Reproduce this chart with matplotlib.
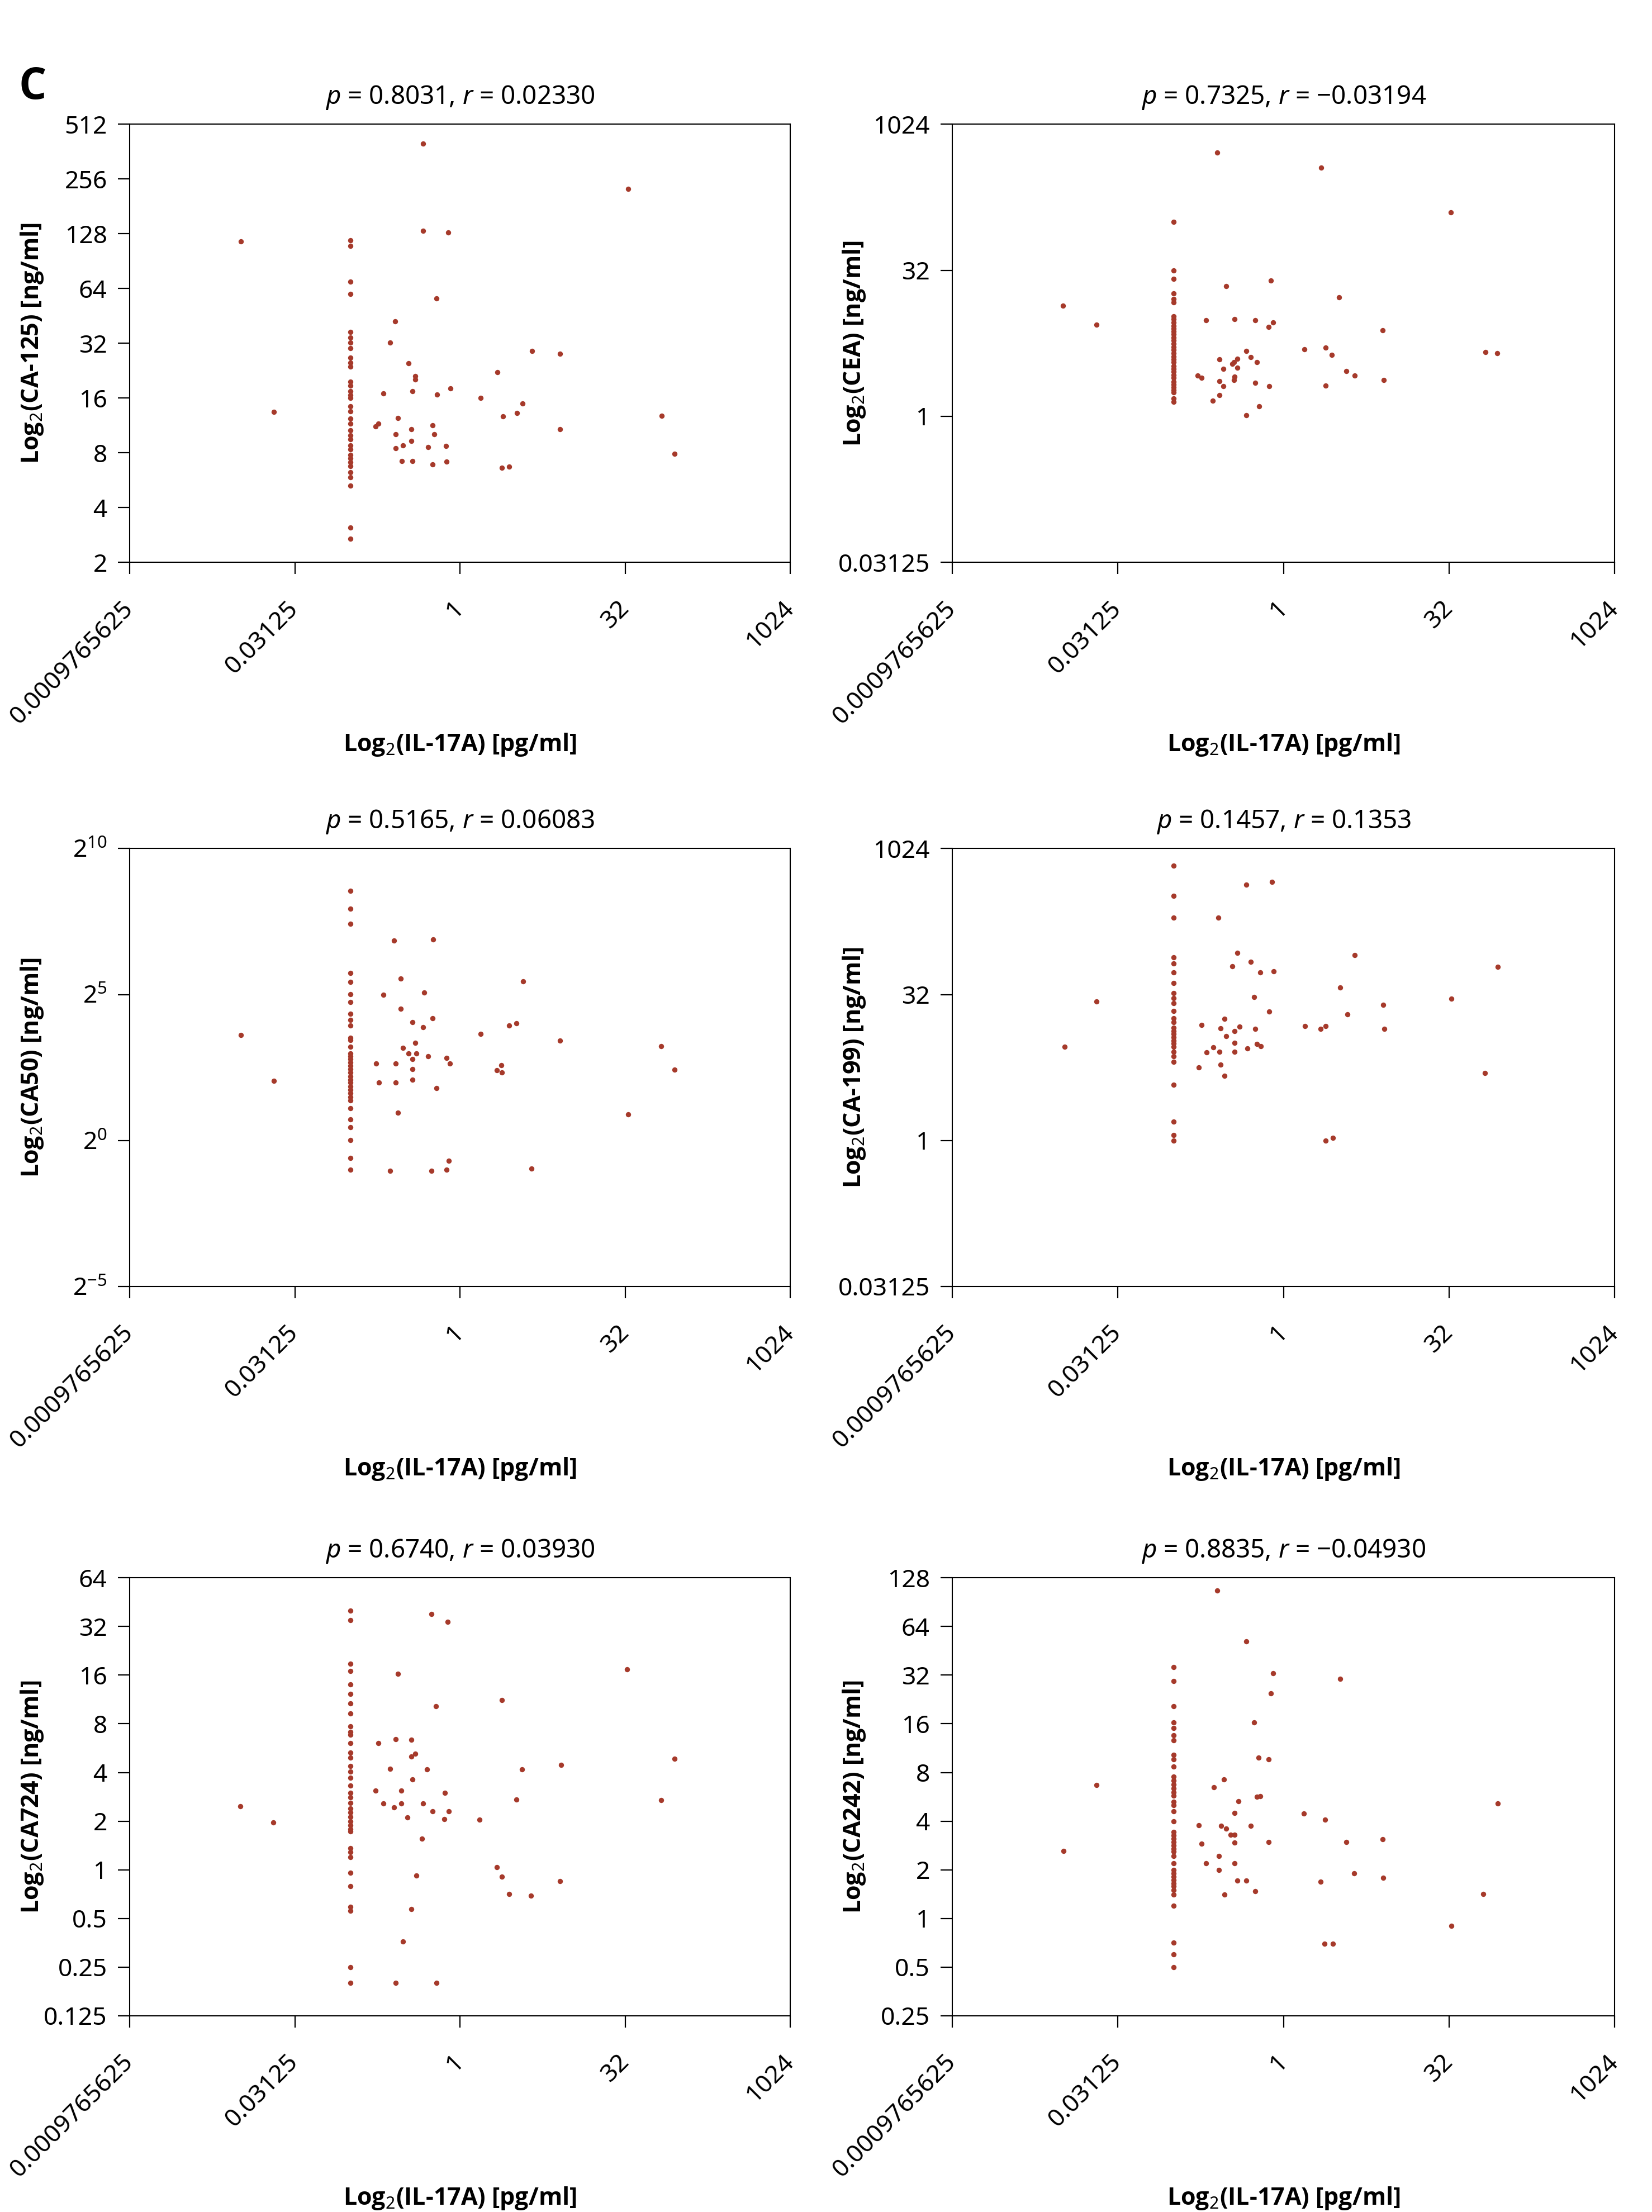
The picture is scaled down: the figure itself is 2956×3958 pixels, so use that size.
import matplotlib
matplotlib.use("Agg")
import matplotlib.pyplot as plt

plt.rcParams['font.family'] = ['Noto Sans', 'DejaVu Sans']
plt.rcParams['mathtext.fontset'] = 'custom'
plt.rcParams['mathtext.rm'] = 'Noto Sans'
plt.rcParams['mathtext.it'] = 'Noto Sans:italic'
plt.rcParams['mathtext.bf'] = 'Open Sans:bold'

BOLD_FAMILY = ['Open Sans', 'DejaVu Sans']
DOT = '#a63a2b'

# IL-17A below detection limit -> plotted at 0.1 pg/ml
IL17_LOD = 0.1

x_ticks = [2 ** -10, 2 ** -5, 1, 2 ** 5, 2 ** 10]
x_tick_labels = ['0.0009765625', '0.03125', '1', '32', '1024']

# ---- CA-125 ----
ca125_col = [118, 109.5, 69.6, 59.7, 37.0, 34.3, 32.2, 30.0, 26.7, 25.0, 23.8, 19.7, 18.7, 17.5,
             16.6, 16.0, 14.4, 13.5, 12.3, 11.6, 10.6, 9.97, 9.5, 8.76, 8.36, 7.78, 7.47, 7.09,
             6.77, 6.24, 5.87, 5.27, 3.11, 2.70]
ca125_il17 = [0.0101, 0.020, 0.17, 0.18, 0.20, 0.23, 0.257, 0.26, 0.27, 0.26, 0.295, 0.30, 0.34,
              0.36, 0.36, 0.37, 0.37, 0.39, 0.39, 0.46, 0.46, 0.51, 0.56, 0.58, 0.56, 0.61, 0.62,
              0.74, 0.75, 0.78, 0.82, 1.53, 2.18, 2.41, 2.47, 2.79, 3.29, 3.71, 4.53, 8.1, 8.1,
              33.8, 69, 90]
ca125_val = [116, 13.4, 11.2, 11.6, 17.0, 32.2, 42.2, 10.1, 12.4, 8.5, 7.2, 8.76, 24.8, 10.8,
             9.27, 7.2, 17.4, 21.1, 20.3, 401, 133, 8.6, 11.3, 10.1, 6.9, 56.6, 16.7, 8.7, 7.16,
             130, 18.1, 16.0, 22.2, 6.64, 12.7, 6.7, 13.2, 14.9, 29.0, 28.1, 10.8, 226, 12.8, 7.9]

# ---- CEA ----
cea_col = [101, 32, 26, 18.6, 16.1, 14.9, 10.7, 10.0, 9.3, 8.6, 8.06, 7.5, 7.0, 6.45, 6.05, 5.6,
           5.2, 4.85, 4.5, 4.15, 3.89, 3.6, 3.3, 3.1, 2.9, 2.68, 2.48, 2.28, 2.14, 1.98, 1.86,
           1.76, 1.52, 1.41]
cea_il17 = [0.0099, 0.0199, 0.166, 0.18, 0.198, 0.228, 0.25, 0.26, 0.26, 0.26, 0.285, 0.285,
            0.30, 0.34, 0.354, 0.36, 0.36, 0.354, 0.38, 0.38, 0.46, 0.46, 0.50, 0.55, 0.55, 0.57,
            0.60, 0.73, 0.74, 0.77, 0.80, 1.55, 2.19, 2.40, 2.42, 2.75, 3.18, 3.71, 4.43, 7.9,
            8.1, 33, 68, 87]
cea_val = [13.8, 8.8, 2.64, 2.48, 9.8, 1.45, 523, 3.89, 2.31, 1.66, 3.07, 2.05, 22, 3.48, 3.63,
           10.1, 2.55, 2.36, 3.92, 3.18, 4.69, 1.02, 4.06, 9.8, 2.22, 3.63, 1.27, 8.3, 2.05, 25,
           9.3, 4.9, 367, 5.1, 2.07, 4.29, 16.9, 2.91, 2.64, 7.7, 2.36, 127, 4.6, 4.5]

# ---- CA50 ----
ca50_col = [373, 245, 171, 53, 43, 32.4, 26.6, 20.2, 17.5, 15.3, 11.5, 10.8, 9.25, 7.85, 7.35,
            6.88, 6.36, 5.9, 5.41, 5.03, 4.61, 4.26, 3.95, 3.61, 3.34, 3.06, 2.80, 2.60, 2.16,
            1.64, 1.37, 1.01, 0.66, 0.50]
ca50_il17 = [0.0101, 0.020, 0.171, 0.183, 0.20, 0.231, 0.25, 0.26, 0.26, 0.27, 0.287, 0.287,
             0.30, 0.34, 0.37, 0.37, 0.37, 0.37, 0.39, 0.40, 0.46, 0.47, 0.51, 0.55, 0.56, 0.57,
             0.61, 0.75, 0.75, 0.79, 0.81, 1.53, 2.16, 2.38, 2.41, 2.81, 3.25, 3.75, 4.48, 8.1,
             33.8, 68, 90]
ca50_val = [12.2, 4.11, 6.23, 3.97, 31.6, 0.49, 115, 6.23, 3.97, 1.93, 46.5, 22.8, 9.06, 7.85,
            16.6, 6.88, 5.46, 4.26, 10.2, 7.85, 14.8, 33.4, 7.35, 0.49, 18.1, 119, 3.48, 7.06,
            0.50, 0.62, 6.19, 12.5, 5.3, 6.0, 5.03, 15.3, 16.2, 43.5, 0.51, 10.7, 1.87, 9.4, 5.35]

# ---- CA-199 ----
ca199_col = [681, 333, 198, 77, 67, 54, 42, 33, 29.3, 26.2, 21.7, 18.2, 16.7, 14.6, 13.5, 12.5,
             11.6, 10.7, 10.0, 9.2, 8.2, 7.4, 6.5, 3.76, 1.57, 1.14, 1.0]
ca199_il17 = [0.0102, 0.020, 0.17, 0.18, 0.20, 0.23, 0.255, 0.26, 0.266, 0.266, 0.29, 0.29, 0.30,
              0.34, 0.36, 0.36, 0.36, 0.38, 0.40, 0.46, 0.47, 0.50, 0.54, 0.55, 0.57, 0.61, 0.62,
              0.74, 0.78, 0.81, 1.56, 2.16, 2.41, 2.41, 2.79, 3.25, 3.8, 4.44, 8.06, 8.2, 33.4,
              67.6, 88]
ca199_val = [9.3, 27, 5.7, 15.5, 8.06, 9.1, 199, 8.2, 14.3, 6.06, 17.9, 4.63, 11.9, 62.7, 13.4,
             10.1, 8.2, 85.6, 14.9, 433, 8.88, 70, 30.3, 14.1, 9.85, 54, 9.4, 21.3, 461, 55.6,
             15.2, 14.1, 15.2, 1.0, 1.06, 37.8, 20.1, 81.6, 25.1, 14.1, 29, 4.96, 62]

# ---- CA724 ----
ca724_col = [40.2, 35, 18.8, 17.0, 14.0, 12.2, 10.7, 9.25, 7.7, 7.1, 6.87, 6.06, 5.32, 4.96, 4.37,
             4.04, 3.71, 3.32, 3.0, 2.81, 2.59, 2.39, 2.26, 2.12, 1.99, 1.88, 1.79, 1.73, 1.36,
             1.29, 1.20, 0.96, 0.79, 0.59, 0.56, 0.25, 0.20]
ca724_il17 = [0.0099, 0.0198, 0.17, 0.18, 0.20, 0.23, 0.25, 0.26, 0.26, 0.27, 0.29, 0.29, 0.30,
              0.33, 0.36, 0.36, 0.36, 0.37, 0.39, 0.40, 0.45, 0.46, 0.50, 0.55, 0.56, 0.60, 0.61,
              0.72, 0.73, 0.77, 0.79, 1.51, 2.16, 2.39, 2.41, 2.79, 3.25, 3.67, 4.44, 8.1, 8.3,
              33.4, 68, 90]
ca724_val = [2.48, 1.97, 3.1, 6.1, 2.57, 4.2, 2.43, 0.20, 6.45, 16.3, 3.1, 2.57, 0.36, 2.1, 6.36,
             0.57, 5.03, 3.63, 5.24, 0.92, 1.56, 2.58, 4.17, 38.3, 2.3, 10.3, 0.20, 2.06, 3.0,
             34.3, 2.3, 2.05, 1.04, 11.2, 0.91, 0.71, 2.73, 4.17, 0.69, 0.85, 4.44, 17.4, 2.7, 4.86]

# ---- CA242 ----
ca242_col = [36, 29.3, 20.5, 16.3, 15.1, 13.6, 12.6, 10.3, 9.68, 8.73, 7.52, 7.15, 6.73, 6.36,
             6.04, 5.77, 5.27, 5.04, 4.6, 4.0, 3.42, 3.27, 3.12, 2.98, 2.83, 2.71, 2.59, 2.44,
             2.20, 1.99, 1.90, 1.82, 1.73, 1.65, 1.58, 1.50, 1.41, 1.20, 0.71, 0.60, 0.50]
ca242_il17 = [0.010, 0.020, 0.17, 0.18, 0.197, 0.233, 0.25, 0.257, 0.257, 0.27, 0.287, 0.29, 0.30,
              0.33, 0.36, 0.36, 0.36, 0.36, 0.38, 0.39, 0.46, 0.46, 0.50, 0.54, 0.55, 0.57, 0.61,
              0.59, 0.73, 0.73, 0.77, 0.80, 1.53, 2.16, 2.34, 2.37, 2.79, 3.25, 3.7, 4.38, 7.9,
              8.06, 33.4, 65, 88]
ca242_val = [2.62, 6.7, 3.76, 2.9, 2.2, 6.5, 107, 2.43, 1.99, 3.73, 7.26, 1.41, 3.6, 3.3, 3.3,
             4.5, 2.95, 2.2, 1.71, 5.3, 51.6, 1.72, 3.73, 16.3, 1.48, 5.66, 5.7, 9.85, 9.68, 2.98,
             24.6, 32.9, 4.47, 1.69, 0.70, 4.1, 0.70, 30.3, 2.98, 1.90, 3.1, 1.78, 0.90, 1.42, 5.13]

panels = [
    dict(col=ca125_col, xs=ca125_il17, ys=ca125_val, name='CA-125',
         title=r'$p$ = 0.8031, $r$ = 0.02330',
         yticks=[2, 4, 8, 16, 32, 64, 128, 256, 512],
         ylabels=['2', '4', '8', '16', '32', '64', '128', '256', '512']),
    dict(col=cea_col, xs=cea_il17, ys=cea_val, name='CEA',
         title=r'$p$ = 0.7325, $r$ = −0.03194',
         yticks=[2 ** -5, 1, 2 ** 5, 2 ** 10],
         ylabels=['0.03125', '1', '32', '1024']),
    dict(col=ca50_col, xs=ca50_il17, ys=ca50_val, name='CA50',
         title=r'$p$ = 0.5165, $r$ = 0.06083',
         yticks=[2 ** -5, 1, 2 ** 5, 2 ** 10],
         ylabels=[r'$2^{-5}$', r'$2^{0}$', r'$2^{5}$', r'$2^{10}$']),
    dict(col=ca199_col, xs=ca199_il17, ys=ca199_val, name='CA-199',
         title=r'$p$ = 0.1457, $r$ = 0.1353',
         yticks=[2 ** -5, 1, 2 ** 5, 2 ** 10],
         ylabels=['0.03125', '1', '32', '1024']),
    dict(col=ca724_col, xs=ca724_il17, ys=ca724_val, name='CA724',
         title=r'$p$ = 0.6740, $r$ = 0.03930',
         yticks=[0.125, 0.25, 0.5, 1, 2, 4, 8, 16, 32, 64],
         ylabels=['0.125', '0.25', '0.5', '1', '2', '4', '8', '16', '32', '64']),
    dict(col=ca242_col, xs=ca242_il17, ys=ca242_val, name='CA242',
         title=r'$p$ = 0.8835, $r$ = −0.04930',
         yticks=[0.25, 0.5, 1, 2, 4, 8, 16, 32, 64, 128],
         ylabels=['0.25', '0.5', '1', '2', '4', '8', '16', '32', '64', '128']),
]

fig = plt.figure(figsize=(29.56, 39.58), dpi=100)

lefts = [0.0785, 0.5765]
widths = [0.400, 0.401]
bottoms = [0.7458, 0.4184, 0.0887]
height = 0.198

for i, p in enumerate(panels):
    row, colno = divmod(i, 2)
    ax = fig.add_axes([lefts[colno], bottoms[row], widths[colno], height])

    xs = [IL17_LOD] * len(p['col']) + p['xs']
    ys = p['col'] + p['ys']
    ax.scatter(xs, ys, s=46, color=DOT, linewidths=0, zorder=3)

    ax.set_xscale('log', base=2)
    ax.set_yscale('log', base=2)
    ax.set_xlim(2 ** -10, 2 ** 10)
    ax.set_ylim(p['yticks'][0], p['yticks'][-1])

    ax.set_xticks(x_ticks)
    ax.set_xticklabels(x_tick_labels, rotation=45, ha='right', va='center',
                       rotation_mode='anchor')
    ax.set_yticks(p['yticks'])
    ax.set_yticklabels(p['ylabels'])
    ax.minorticks_off()

    ax.tick_params(axis='both', direction='out', length=15, width=1.6, labelsize=32)
    ax.tick_params(axis='x', pad=40)
    ax.tick_params(axis='y', pad=14)
    for sp in ax.spines.values():
        sp.set_linewidth(1.5)

    ax.set_title(p['title'], fontsize=33, pad=26)
    ax.set_xlabel(r'Log$_2$(IL-17A) [pg/ml]', fontsize=31, fontweight='bold',
                  family=BOLD_FAMILY, va='baseline')
    ax.xaxis.set_label_coords(0.5, -0.431)
    ax.set_ylabel('Log$_2$(' + p['name'] + ') [ng/ml]', fontsize=31, fontweight='bold',
                  family=BOLD_FAMILY)
    ax.yaxis.set_label_coords(-0.128, 0.5)

fig.text(33 / 2956, 1 - 177 / 3958, 'C', fontsize=56, fontweight='bold',
         family=BOLD_FAMILY, ha='left', va='baseline')

fig.savefig('out.png', dpi=100)
